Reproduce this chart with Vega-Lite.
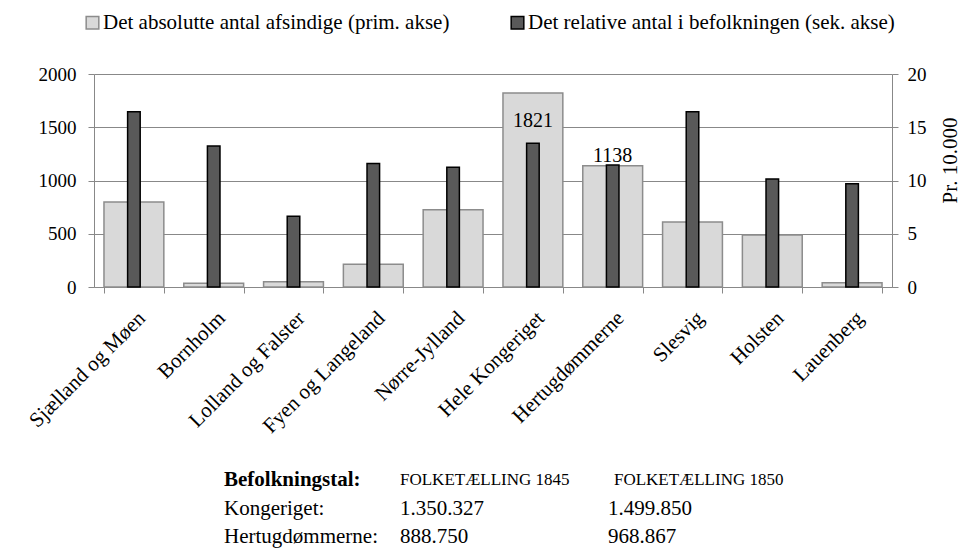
{
  "$schema": "https://vega.github.io/schema/vega-lite/v6.json",
  "background": "white",
  "padding": {"left": 25, "top": 12, "right": 0, "bottom": 0},
  "config": {
    "font": "Liberation Serif",
    "view": {"stroke": null},
    "concat": {"spacing": 31},
    "axis": {"labelFont": "Liberation Serif", "titleFont": "Liberation Serif", "labelColor": "black", "titleColor": "black", "domainColor": "#888888", "tickColor": "#888888", "gridColor": "#888888"},
    "legend": {"labelFont": "Liberation Serif"},
    "text": {"font": "Liberation Serif"}
  },
  "datasets": {
    "regions": [
      {"region": "Sjælland og Møen", "absolut": 798, "relativ": 16.45},
      {"region": "Bornholm", "absolut": 35, "relativ": 13.25},
      {"region": "Lolland og Falster", "absolut": 50, "relativ": 6.65},
      {"region": "Fyen og Langeland", "absolut": 213, "relativ": 11.6},
      {"region": "Nørre-Jylland", "absolut": 725, "relativ": 11.25},
      {"region": "Hele Kongeriget", "absolut": 1821, "relativ": 13.5},
      {"region": "Hertugdømmerne", "absolut": 1138, "relativ": 11.45},
      {"region": "Slesvig", "absolut": 610, "relativ": 16.45},
      {"region": "Holsten", "absolut": 488, "relativ": 10.15},
      {"region": "Lauenberg", "absolut": 40, "relativ": 9.7}
    ],
    "table": [
      {"row": "h", "col": "a", "text": "Befolkningstal:"},
      {"row": "h", "col": "b", "text": "FOLKETÆLLING 1845"},
      {"row": "h", "col": "c", "text": "FOLKETÆLLING 1850"},
      {"row": "k", "col": "a", "text": "Kongeriget:"},
      {"row": "k", "col": "b", "text": "1.350.327"},
      {"row": "k", "col": "c", "text": "1.499.850"},
      {"row": "e", "col": "a", "text": "Hertugdømmerne:"},
      {"row": "e", "col": "b", "text": "888.750"},
      {"row": "e", "col": "c", "text": "968.867"}
    ]
  },
  "vconcat": [
    {
      "width": 798,
      "height": 213,
      "data": {"name": "regions"},
      "encoding": {
        "x": {
          "field": "region", "type": "nominal", "sort": null,
          "scale": {"paddingInner": 0.25, "paddingOuter": 0.125},
          "axis": {"title": null, "labelAngle": -45, "labelFontSize": 21, "labelPadding": 14, "tickBand": "extent", "tickSize": 6}
        }
      },
      "layer": [
        {
          "layer": [
            {
              "mark": {"type": "bar", "strokeWidth": 1.5},
              "encoding": {
                "y": {
                  "field": "absolut", "type": "quantitative",
                  "scale": {"domain": [0, 2000]},
                  "axis": {"title": null, "values": [0, 500, 1000, 1500, 2000], "format": "d", "grid": true, "labelFontSize": 19, "labelPadding": 12, "tickSize": 6}
                },
                "fill": {
                  "datum": "Det absolutte antal afsindige (prim. akse)",
                  "scale": {"domain": ["Det absolutte antal afsindige (prim. akse)", "Det relative antal i befolkningen (sek. akse)"], "range": ["#d9d9d9", "#595959"]},
                  "legend": {"orient": "none", "legendX": -12, "legendY": -62, "direction": "horizontal", "title": null, "symbolType": "square", "symbolSize": 160, "symbolStrokeWidth": 1.5, "labelFont": "Liberation Serif", "labelFontSize": 21, "labelColor": "black", "labelOffset": 0, "columnPadding": 57, "labelLimit": 600}
                },
                "stroke": {
                  "datum": "Det absolutte antal afsindige (prim. akse)",
                  "scale": {"domain": ["Det absolutte antal afsindige (prim. akse)", "Det relative antal i befolkningen (sek. akse)"], "range": ["#8c8c8c", "#000000"]},
                  "legend": {"orient": "none", "legendX": -12, "legendY": -62, "direction": "horizontal", "title": null, "symbolType": "square", "symbolSize": 160, "symbolStrokeWidth": 1.5, "labelFont": "Liberation Serif", "labelFontSize": 21, "labelColor": "black", "labelOffset": 0, "columnPadding": 57, "labelLimit": 600}
                }
              }
            },
            {
              "transform": [{"filter": "datum.region === 'Hele Kongeriget'"}],
              "mark": {"type": "text", "font": "Liberation Serif", "fontSize": 20, "dy": 34, "baseline": "alphabetic"},
              "encoding": {
                "y": {"field": "absolut", "type": "quantitative"},
                "text": {"field": "absolut", "type": "quantitative", "format": "d"}
              }
            },
            {
              "transform": [{"filter": "datum.region === 'Hertugdømmerne'"}],
              "mark": {"type": "text", "font": "Liberation Serif", "fontSize": 20, "dy": -4, "baseline": "alphabetic"},
              "encoding": {
                "y": {"field": "absolut", "type": "quantitative"},
                "text": {"field": "absolut", "type": "quantitative", "format": "d"}
              }
            }
          ]
        },
        {
          "mark": {"type": "bar", "strokeWidth": 1.5, "width": {"band": 0.21}},
          "encoding": {
            "y": {
              "field": "relativ", "type": "quantitative",
              "scale": {"domain": [0, 20]},
              "axis": {"orient": "right", "title": "Pr. 10.000", "titleFont": "Liberation Serif", "titleFontSize": 21, "titleFontWeight": "normal", "titleAngle": 270, "titleX": 58, "titleY": 86, "titleAlign": "center", "titleBaseline": "middle", "values": [0, 5, 10, 15, 20], "format": "d", "grid": false, "labelFontSize": 19, "labelPadding": 9, "tickSize": 6}
            },
            "fill": {"datum": "Det relative antal i befolkningen (sek. akse)"},
            "stroke": {"datum": "Det relative antal i befolkningen (sek. akse)"}
          }
        }
      ],
      "resolve": {"scale": {"y": "independent"}}
    },
    {
      "width": 612,
      "height": 81,
      "data": {"name": "table"},
      "encoding": {
        "x": {"field": "col", "type": "nominal", "scale": {"type": "point", "domain": ["a", "b", "c"], "padding": 0.739}, "axis": null},
        "y": {"field": "row", "type": "nominal", "scale": {"type": "point", "domain": ["h", "k", "e"], "padding": 0.4}, "axis": null},
        "text": {"field": "text"}
      },
      "layer": [
        {
          "transform": [{"filter": "datum.row === 'h' && datum.col === 'a'"}],
          "mark": {"type": "text", "font": "Liberation Serif", "align": "left", "baseline": "middle", "fontSize": 21, "fontWeight": "bold"}
        },
        {
          "transform": [{"filter": "datum.row === 'h' && datum.col === 'b'"}],
          "mark": {"type": "text", "font": "Liberation Serif", "align": "left", "baseline": "middle", "fontSize": 17}
        },
        {
          "transform": [{"filter": "datum.row === 'h' && datum.col === 'c'"}],
          "mark": {"type": "text", "font": "Liberation Serif", "align": "left", "baseline": "middle", "fontSize": 17, "dx": 38}
        },
        {
          "transform": [{"filter": "datum.row !== 'h' && datum.col !== 'c'"}],
          "mark": {"type": "text", "font": "Liberation Serif", "align": "left", "baseline": "middle", "fontSize": 21}
        },
        {
          "transform": [{"filter": "datum.row !== 'h' && datum.col === 'c'"}],
          "mark": {"type": "text", "font": "Liberation Serif", "align": "left", "baseline": "middle", "fontSize": 21, "dx": 32}
        }
      ]
    }
  ]
}
